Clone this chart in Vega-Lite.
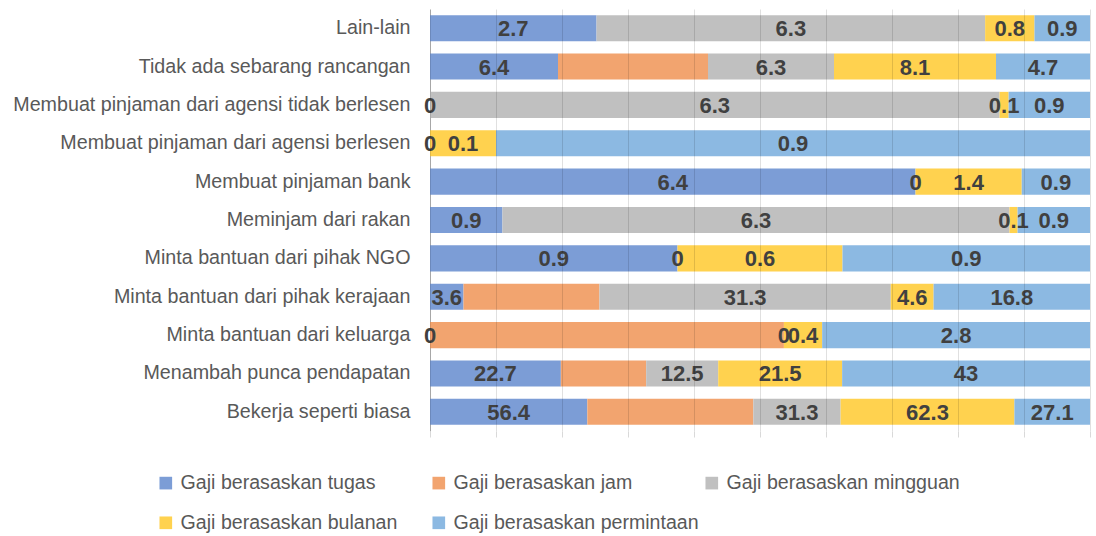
{
  "$schema": "https://vega.github.io/schema/vega-lite/v6.json",
  "width": 660,
  "height": 422,
  "autosize": {"type": "none"},
  "padding": {"left": 430, "top": 9, "right": 6, "bottom": 105},
  "background": "white",
  "config": {"view": {"stroke": null}, "font": "Liberation Sans"},
  "data": {
    "values": [
      {"cat": "Lain-lain", "k": 1, "s": "Gaji berasaskan tugas", "v": 2.7, "lab": "2.7"},
      {"cat": "Lain-lain", "k": 2, "s": "Gaji berasaskan jam", "v": 0, "lab": ""},
      {"cat": "Lain-lain", "k": 3, "s": "Gaji berasaskan mingguan", "v": 6.3, "lab": "6.3"},
      {"cat": "Lain-lain", "k": 4, "s": "Gaji berasaskan bulanan", "v": 0.8, "lab": "0.8"},
      {"cat": "Lain-lain", "k": 5, "s": "Gaji berasaskan permintaan", "v": 0.9, "lab": "0.9"},
      {"cat": "Tidak ada sebarang rancangan", "k": 1, "s": "Gaji berasaskan tugas", "v": 6.4, "lab": "6.4"},
      {"cat": "Tidak ada sebarang rancangan", "k": 2, "s": "Gaji berasaskan jam", "v": 7.5, "lab": ""},
      {"cat": "Tidak ada sebarang rancangan", "k": 3, "s": "Gaji berasaskan mingguan", "v": 6.3, "lab": "6.3"},
      {"cat": "Tidak ada sebarang rancangan", "k": 4, "s": "Gaji berasaskan bulanan", "v": 8.1, "lab": "8.1"},
      {"cat": "Tidak ada sebarang rancangan", "k": 5, "s": "Gaji berasaskan permintaan", "v": 4.7, "lab": "4.7"},
      {"cat": "Membuat pinjaman dari agensi tidak berlesen", "k": 1, "s": "Gaji berasaskan tugas", "v": 0, "lab": "0"},
      {"cat": "Membuat pinjaman dari agensi tidak berlesen", "k": 2, "s": "Gaji berasaskan jam", "v": 0, "lab": ""},
      {"cat": "Membuat pinjaman dari agensi tidak berlesen", "k": 3, "s": "Gaji berasaskan mingguan", "v": 6.3, "lab": "6.3"},
      {"cat": "Membuat pinjaman dari agensi tidak berlesen", "k": 4, "s": "Gaji berasaskan bulanan", "v": 0.1, "lab": "0.1"},
      {"cat": "Membuat pinjaman dari agensi tidak berlesen", "k": 5, "s": "Gaji berasaskan permintaan", "v": 0.9, "lab": "0.9"},
      {"cat": "Membuat pinjaman dari agensi berlesen", "k": 1, "s": "Gaji berasaskan tugas", "v": 0, "lab": "0"},
      {"cat": "Membuat pinjaman dari agensi berlesen", "k": 2, "s": "Gaji berasaskan jam", "v": 0, "lab": ""},
      {"cat": "Membuat pinjaman dari agensi berlesen", "k": 3, "s": "Gaji berasaskan mingguan", "v": 0, "lab": ""},
      {"cat": "Membuat pinjaman dari agensi berlesen", "k": 4, "s": "Gaji berasaskan bulanan", "v": 0.1, "lab": "0.1"},
      {"cat": "Membuat pinjaman dari agensi berlesen", "k": 5, "s": "Gaji berasaskan permintaan", "v": 0.9, "lab": "0.9"},
      {"cat": "Membuat pinjaman bank", "k": 1, "s": "Gaji berasaskan tugas", "v": 6.4, "lab": "6.4"},
      {"cat": "Membuat pinjaman bank", "k": 2, "s": "Gaji berasaskan jam", "v": 0, "lab": ""},
      {"cat": "Membuat pinjaman bank", "k": 3, "s": "Gaji berasaskan mingguan", "v": 0, "lab": "0"},
      {"cat": "Membuat pinjaman bank", "k": 4, "s": "Gaji berasaskan bulanan", "v": 1.4, "lab": "1.4"},
      {"cat": "Membuat pinjaman bank", "k": 5, "s": "Gaji berasaskan permintaan", "v": 0.9, "lab": "0.9"},
      {"cat": "Meminjam dari rakan", "k": 1, "s": "Gaji berasaskan tugas", "v": 0.9, "lab": "0.9"},
      {"cat": "Meminjam dari rakan", "k": 2, "s": "Gaji berasaskan jam", "v": 0, "lab": ""},
      {"cat": "Meminjam dari rakan", "k": 3, "s": "Gaji berasaskan mingguan", "v": 6.3, "lab": "6.3"},
      {"cat": "Meminjam dari rakan", "k": 4, "s": "Gaji berasaskan bulanan", "v": 0.1, "lab": "0.1"},
      {"cat": "Meminjam dari rakan", "k": 5, "s": "Gaji berasaskan permintaan", "v": 0.9, "lab": "0.9"},
      {"cat": "Minta bantuan dari pihak NGO", "k": 1, "s": "Gaji berasaskan tugas", "v": 0.9, "lab": "0.9"},
      {"cat": "Minta bantuan dari pihak NGO", "k": 2, "s": "Gaji berasaskan jam", "v": 0, "lab": ""},
      {"cat": "Minta bantuan dari pihak NGO", "k": 3, "s": "Gaji berasaskan mingguan", "v": 0, "lab": "0"},
      {"cat": "Minta bantuan dari pihak NGO", "k": 4, "s": "Gaji berasaskan bulanan", "v": 0.6, "lab": "0.6"},
      {"cat": "Minta bantuan dari pihak NGO", "k": 5, "s": "Gaji berasaskan permintaan", "v": 0.9, "lab": "0.9"},
      {"cat": "Minta bantuan dari pihak kerajaan", "k": 1, "s": "Gaji berasaskan tugas", "v": 3.6, "lab": "3.6"},
      {"cat": "Minta bantuan dari pihak kerajaan", "k": 2, "s": "Gaji berasaskan jam", "v": 14.6, "lab": ""},
      {"cat": "Minta bantuan dari pihak kerajaan", "k": 3, "s": "Gaji berasaskan mingguan", "v": 31.3, "lab": "31.3"},
      {"cat": "Minta bantuan dari pihak kerajaan", "k": 4, "s": "Gaji berasaskan bulanan", "v": 4.6, "lab": "4.6"},
      {"cat": "Minta bantuan dari pihak kerajaan", "k": 5, "s": "Gaji berasaskan permintaan", "v": 16.8, "lab": "16.8"},
      {"cat": "Minta bantuan dari keluarga", "k": 1, "s": "Gaji berasaskan tugas", "v": 0, "lab": "0"},
      {"cat": "Minta bantuan dari keluarga", "k": 2, "s": "Gaji berasaskan jam", "v": 3.7, "lab": ""},
      {"cat": "Minta bantuan dari keluarga", "k": 3, "s": "Gaji berasaskan mingguan", "v": 0, "lab": "0"},
      {"cat": "Minta bantuan dari keluarga", "k": 4, "s": "Gaji berasaskan bulanan", "v": 0.4, "lab": "0.4"},
      {"cat": "Minta bantuan dari keluarga", "k": 5, "s": "Gaji berasaskan permintaan", "v": 2.8, "lab": "2.8"},
      {"cat": "Menambah punca pendapatan", "k": 1, "s": "Gaji berasaskan tugas", "v": 22.7, "lab": "22.7"},
      {"cat": "Menambah punca pendapatan", "k": 2, "s": "Gaji berasaskan jam", "v": 14.8, "lab": ""},
      {"cat": "Menambah punca pendapatan", "k": 3, "s": "Gaji berasaskan mingguan", "v": 12.5, "lab": "12.5"},
      {"cat": "Menambah punca pendapatan", "k": 4, "s": "Gaji berasaskan bulanan", "v": 21.5, "lab": "21.5"},
      {"cat": "Menambah punca pendapatan", "k": 5, "s": "Gaji berasaskan permintaan", "v": 43, "lab": "43"},
      {"cat": "Bekerja seperti biasa", "k": 1, "s": "Gaji berasaskan tugas", "v": 56.4, "lab": "56.4"},
      {"cat": "Bekerja seperti biasa", "k": 2, "s": "Gaji berasaskan jam", "v": 59.5, "lab": ""},
      {"cat": "Bekerja seperti biasa", "k": 3, "s": "Gaji berasaskan mingguan", "v": 31.3, "lab": "31.3"},
      {"cat": "Bekerja seperti biasa", "k": 4, "s": "Gaji berasaskan bulanan", "v": 62.3, "lab": "62.3"},
      {"cat": "Bekerja seperti biasa", "k": 5, "s": "Gaji berasaskan permintaan", "v": 27.1, "lab": "27.1"}
    ]
  },
  "encoding": {
    "y": {
      "field": "cat",
      "type": "nominal",
      "sort": ["Lain-lain", "Tidak ada sebarang rancangan", "Membuat pinjaman dari agensi tidak berlesen", "Membuat pinjaman dari agensi berlesen", "Membuat pinjaman bank", "Meminjam dari rakan", "Minta bantuan dari pihak NGO", "Minta bantuan dari pihak kerajaan", "Minta bantuan dari keluarga", "Menambah punca pendapatan", "Bekerja seperti biasa"],
      "scale": {"paddingInner": 0.32, "paddingOuter": 0.16},
      "axis": {
        "title": null,
        "ticks": false,
        "domain": true,
        "domainColor": "#bfbfbf",
        "labelFont": "Liberation Sans",
        "labelFontSize": 19.7,
        "labelColor": "#595959",
        "labelPadding": 20,
        "labelLimit": 500
      }
    },
    "order": {"field": "k", "type": "quantitative", "sort": "ascending"}
  },
  "layer": [
    {
      "mark": {"type": "bar"},
      "encoding": {
        "x": {
          "field": "v",
          "type": "quantitative",
          "stack": "normalize",
          "scale": {"domain": [0, 1], "nice": false},
          "axis": {
            "title": null,
            "labels": false,
            "domain": false,
            "ticks": true,
            "tickSize": 6,
            "tickColor": "#d9d9d9",
            "grid": true,
            "gridColor": "#000000",
            "gridOpacity": 0.12,
            "values": [0, 0.1, 0.2, 0.3, 0.4, 0.5, 0.6, 0.7, 0.8, 0.9, 1],
            "zindex": 1
          }
        },
        "color": {
          "field": "s",
          "type": "nominal",
          "sort": ["Gaji berasaskan tugas", "Gaji berasaskan jam", "Gaji berasaskan mingguan", "Gaji berasaskan bulanan", "Gaji berasaskan permintaan"],
          "scale": {
            "domain": ["Gaji berasaskan tugas", "Gaji berasaskan jam", "Gaji berasaskan mingguan", "Gaji berasaskan bulanan", "Gaji berasaskan permintaan"],
            "range": ["#7c9dd6", "#f2a46f", "#c0c0c0", "#ffd24f", "#8cb9e2"]
          },
          "legend": {
            "title": null,
            "orient": "none",
            "legendX": -274,
            "legendY": 464,
            "direction": "horizontal",
            "columns": 3,
            "gridAlign": "all",
            "columnPadding": 3,
            "rowPadding": 19,
            "padding": 0,
            "symbolType": "square",
            "symbolSize": 160,
            "symbolStrokeWidth": 0,
            "symbolOpacity": 1,
            "labelFont": "Liberation Sans",
            "labelFontSize": 19.6,
            "labelColor": "#595959",
            "labelOffset": 5,
            "labelLimit": 400
          }
        }
      }
    },
    {
      "mark": {"type": "text", "font": "Liberation Sans", "fontWeight": "bold", "fontSize": 22, "baseline": "middle", "align": "center", "fill": "#404040", "dy": 1},
      "encoding": {
        "x": {"field": "v", "type": "quantitative", "stack": "normalize", "bandPosition": 0.5},
        "detail": {"field": "s", "type": "nominal"},
        "text": {"field": "lab", "type": "nominal"}
      }
    }
  ]
}
